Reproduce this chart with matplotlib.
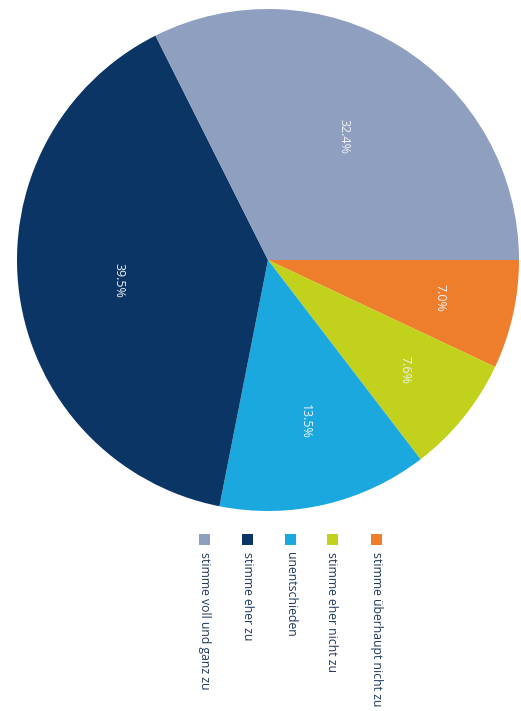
import matplotlib.pyplot as plt
import numpy as np
from matplotlib.patches import Rectangle

plt.rcParams['font.family'] = ['Open Sans', 'DejaVu Sans']

# wedges listed clockwise from the 3 o'clock position
categories = ["stimme überhaupt nicht zu", "stimme eher nicht zu", "unentschieden",
              "stimme eher zu", "stimme voll und ganz zu"]
shares = [7.0, 7.6, 13.5, 39.5, 32.4]
colors = ["#EE7E2B", "#C2D11B", "#1BA8DF", "#0B3565", "#8F9FC0"]

# legend runs in the original reading order
legend_order = ["stimme voll und ganz zu", "stimme eher zu", "unentschieden",
                "stimme eher nicht zu", "stimme überhaupt nicht zu"]

W, H = 521, 711
fig = plt.figure(figsize=(W / 100, H / 100), dpi=100)
ax = fig.add_axes([0, 0, 1, 1])

cx, cy, R = 268, H - 260, 251
wedges, _ = ax.pie(shares, colors=colors, startangle=0, counterclock=False,
                   center=(cx, cy), radius=R, wedgeprops=dict(linewidth=0))

# pie() rescales the axes, so fix the pixel-like frame afterwards
ax.set_xlim(0, W)
ax.set_ylim(0, H)
ax.set_aspect("equal")
ax.axis("off")

# percentage labels, rotated with the chart
label_r = [0.70, 0.70, 0.66, 0.60, 0.58]
start = 0.0
for val, f in zip(shares, label_r):
    mid = start + val / 2 * 3.6
    theta = np.deg2rad(-mid)
    ax.text(cx + R * f * np.cos(theta), cy + R * f * np.sin(theta),
            f"{val:.1f}%", rotation=-90, ha="center", va="center",
            color="#EEF1F6", fontsize=9)
    start += val * 3.6

# legend: square markers with text running downward
leg_x = [204, 247, 290, 332, 376]
sq = 11
for name, x in zip(legend_order, leg_x):
    c = colors[categories.index(name)]
    ax.add_patch(Rectangle((x - sq / 2, H - 545), sq, sq, color=c, linewidth=0))
    ax.text(x, H - 552, name, rotation=-90, ha="center", va="top",
            color="#1F3A5C", fontsize=8.8)

fig.savefig("out.png", dpi=100)
